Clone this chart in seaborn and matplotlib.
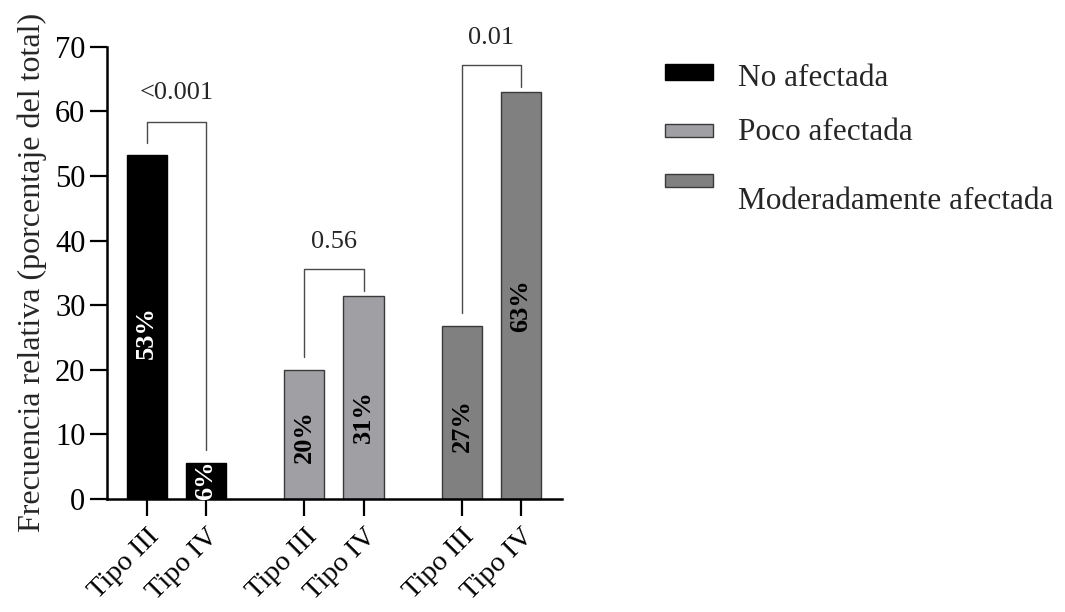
import matplotlib
matplotlib.use("Agg")
import matplotlib.pyplot as plt
from matplotlib.patches import Rectangle
import pandas as pd
import seaborn as sns

# --- data ---------------------------------------------------------------
groups = ["No afectada", "No afectada",
          "Poco afectada", "Poco afectada",
          "Moderadamente afectada", "Moderadamente afectada"]
tipos = ["Tipo III", "Tipo IV", "Tipo III", "Tipo IV", "Tipo III", "Tipo IV"]
values = [53.3, 5.6, 20.0, 31.4, 26.7, 63.0]
value_labels = ["53%", "6%", "20%", "31%", "27%", "63%"]
p_values = ["<0.001", "0.56", "0.01"]

# --- layout / style -----------------------------------------------------
positions = [0.0, 1.0, 2.66, 3.66, 5.32, 6.32]
label_heights = [25.7, 2.9, 9.6, 12.8, 11.3, 29.9]
label_colors = ["white", "white", "black", "black", "black", "black"]
bracket_pairs = [(0, 1), (2, 3), (4, 5)]
bracket_left = [55.1, 21.9, 28.8]
bracket_top = [58.4, 35.6, 67.2]
bracket_right = [7.6, 32.2, 63.8]
p_label_heights = [62.8, 39.8, 71.4]
palette = {"No afectada": "#000000",
           "Poco afectada": "#A0A0A4",
           "Moderadamente afectada": "#808080"}
edge_colors = {"No afectada": "#000000",
               "Poco afectada": "#3a3a3a",
               "Moderadamente afectada": "#3a3a3a"}

sns.set_style("ticks")
plt.rcParams["font.family"] = ["Liberation Serif", "DejaVu Serif"]

W, H = 1065, 612
fig = plt.figure(figsize=(W / 100, H / 100), dpi=100)
ax = fig.add_axes([107 / W, 1 - 499 / H, (562 - 107) / W, (499 - 46.7) / H])

df = pd.DataFrame({"pos": positions, "value": values, "group": groups})
sns.barplot(data=df, x="pos", y="value", hue="group", palette=palette,
            native_scale=True, width=0.68, errorbar=None, legend=False,
            linewidth=1.0, ax=ax)

# per-group edge colours
order = list(dict.fromkeys(groups))
for patch in ax.patches:
    fc = patch.get_facecolor()
    for g in order:
        if matplotlib.colors.to_hex(fc) == palette[g].lower():
            patch.set_edgecolor(edge_colors[g])

ax.set_xlim(-0.67, 7.01)
ax.set_ylim(0, 70)
ax.set_yticks(range(0, 71, 10))
ax.set_xticks(positions)
ax.set_xticklabels(tipos, rotation=45, ha="right", va="top",
                   rotation_mode="anchor")
ax.tick_params(axis="both", length=12, width=1.6, labelsize=22,
               color="black", labelcolor="black")
ax.tick_params(axis="x", pad=6, labelsize=20.5)
for side in ("left", "bottom"):
    ax.spines[side].set_linewidth(1.8)
    ax.spines[side].set_color("black")
sns.despine(ax=ax)
ax.set_xlabel("")
ax.set_ylabel("Frecuencia relativa (porcentaje del total)", fontsize=23,
              labelpad=6)

# percentage labels inside the bars
for x, h, txt, c in zip(positions, label_heights, value_labels, label_colors):
    ax.text(x, h, txt, rotation=90, ha="center", va="center",
            fontsize=19, fontweight="bold", color=c)

# significance brackets
for (i, j), yl, yt, yr, p, yp in zip(bracket_pairs, bracket_left, bracket_top,
                                     bracket_right, p_values, p_label_heights):
    x1, x2 = positions[i], positions[j]
    ax.plot([x1, x1, x2, x2], [yl, yt, yt, yr], color="#4a4a4a", lw=1.0,
            clip_on=False)
    ax.text((x1 + x2) / 2, yp, p, ha="center", va="center", fontsize=19,
            clip_on=False)

# legend
patch_boxes = [(64, 80), (124, 137), (174, 187)]
text_centers = [78, 132, 202]
for g, (y0, y1), ty in zip(order, patch_boxes, text_centers):
    fig.add_artist(Rectangle((665 / W, 1 - y1 / H), 48 / W, (y1 - y0) / H,
                             transform=fig.transFigure, facecolor=palette[g],
                             edgecolor=edge_colors[g], linewidth=1.0))
    fig.text(738 / W, 1 - ty / H, g, ha="left", va="center", fontsize=22.5)

fig.savefig("out.png", dpi=100)
